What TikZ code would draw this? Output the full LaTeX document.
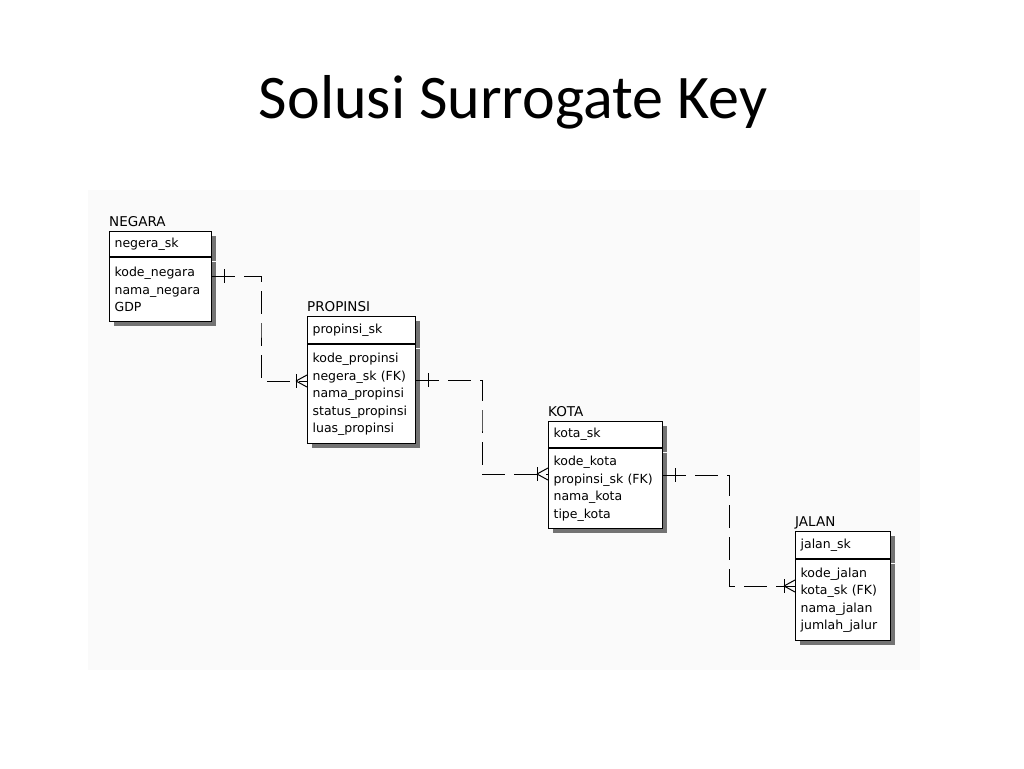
\documentclass[tikz,border=0pt]{standalone}
\usepackage{fontspec}
\setmainfont{DejaVu Sans}
\newfontfamily\slidefont{Carlito}
\usepackage{tikz}
\usetikzlibrary{calc}
\usetikzlibrary{positioning}
\usetikzlibrary{shadows}

% one side of a relation: a short bar across the line
\newcommand{\onebar}[1]{\draw[line width=1pt] ([xshift=12pt]#1) ++(0,-7) -- ++(0,14);}
% many side: bar plus crow's foot opening to the table
\newcommand{\crowfoot}[1]{
    \draw[line width=1pt] ([xshift=-11pt]#1) ++(0,-7) -- ++(0,14);
    \draw[line width=1pt] ([xshift=-11pt]#1) -- ([yshift=6pt]#1);
    \draw[line width=1pt] ([xshift=-11pt]#1) -- ([yshift=-6pt]#1);
}

\begin{document}
\begin{tikzpicture}[x=1pt, y=-1pt]

                \def\hs{4pt}

                \tikzset{
                    ent/.style={draw, line width=1.2pt, fill=white,
                        inner xsep=5pt, inner ysep=0pt, align=left,
                        font=\fontsize{12.5}{17.5}\selectfont,
                        drop shadow={shadow xshift=\hs, shadow yshift=-\hs,
                            fill=black!55, opacity=1}},
                    enthead/.style={ent, anchor=north west, text width=#1},
                    entbody/.style={ent, text width=#1},
                    entname/.style={anchor=base west, inner sep=0pt,
                        font=\fontsize{13.5}{15}\selectfont},
                    rel/.style={line width=1pt, dash pattern=on 23pt off 9pt}
                }

                % page and the grey sheet behind the diagram
                \fill[white] (0,0) rectangle (1024,768);
                \useasboundingbox (0,0) rectangle (1024,768);
                \fill[black!2] (88,190) rectangle (920,670);

                \node[font=\slidefont\fontsize{62}{70}\selectfont, anchor=base]
                (title) at (513,118) {Solusi Surrogate Key};

                % tables
                \node[enthead=92pt, minimum height=25pt] (negaraH) at (109,231)
                {negera\_sk};
                \node[entbody=92pt, minimum height=64pt, below=0pt of negaraH] (negaraB)
                {kode\_negara\\nama\_negara\\GDP};
                \node[entname] (negaraL) at ([yshift=5pt]negaraH.north west) {NEGARA};

                \node[enthead=98pt, minimum height=27pt] (propinsiH) at (307,316)
                {propinsi\_sk};
                \node[entbody=98pt, minimum height=99pt, below=0pt of propinsiH] (propinsiB)
                {kode\_propinsi\\negera\_sk (FK)\\nama\_propinsi\\status\_propinsi\\luas\_propinsi};
                \node[entname] (propinsiL) at ([yshift=5pt]propinsiH.north west) {PROPINSI};

                \node[enthead=104pt, minimum height=26pt] (kotaH) at (548,421)
                {kota\_sk};
                \node[entbody=104pt, minimum height=80pt, below=0pt of kotaH] (kotaB)
                {kode\_kota\\propinsi\_sk (FK)\\nama\_kota\\tipe\_kota};
                \node[entname] (kotaL) at ([yshift=5pt]kotaH.north west) {KOTA};

                \node[enthead=85pt, minimum height=27pt] (jalanH) at (795,531)
                {jalan\_sk};
                \node[entbody=85pt, minimum height=81pt, below=0pt of jalanH] (jalanB)
                {kode\_jalan\\kota\_sk (FK)\\nama\_jalan\\jumlah\_jalur};
                \node[entname] (jalanL) at ([yshift=5pt]jalanH.north west) {JALAN};

                % end points of the relations
                \coordinate (np) at (negaraB.east |- 0,276);
                \coordinate (pn) at (propinsiB.west |- 0,381);
                \coordinate (pk) at (propinsiB.east |- 0,380);
                \coordinate (kp) at (kotaB.west |- 0,474);
                \coordinate (kj) at (kotaB.east |- 0,475);
                \coordinate (jk) at (jalanB.west |- 0,586);
                \coordinate (m1) at (261,330);
                \coordinate (m2) at (482,430);
                \coordinate (m3) at (729,530);

                \begin{scope}
                    \draw[rel] (np) -| (m1) |- (pn);
                    \draw[rel] (pk) -| (m2) |- (kp);
                    \draw[rel] (kj) -| (m3) |- (jk);
                    \onebar{np}
                    \onebar{pk}
                    \onebar{kj}
                    \crowfoot{pn}
                    \crowfoot{kp}
                    \crowfoot{jk}
                \end{scope}

\end{tikzpicture}
\end{document}
